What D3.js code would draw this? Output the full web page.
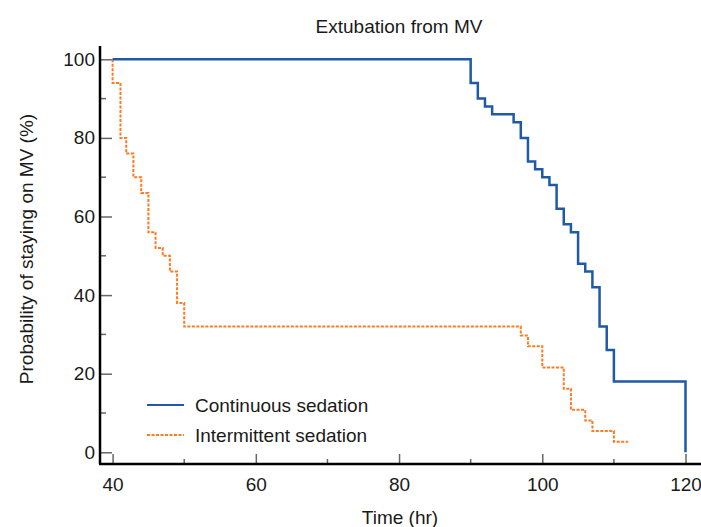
<!DOCTYPE html>
<html>
<head>
<meta charset="utf-8">
<script src="https://cdn.jsdelivr.net/npm/d3@7"></script>
<style>
    body { margin: 0; background: #fff; }
    svg text { font-family: "Liberation Sans", Arial, sans-serif; fill: #1a1a1a; }
</style>
</head>
<body>
<svg id="chart" width="701" height="527"></svg>
<script>
// Continuous sedation (Kaplan-Meier steps)
const contTime = [40, 90, 91, 92, 93, 96, 97, 98, 99, 100, 101, 102, 103, 104, 105, 106, 107, 108, 109, 110, 120];
const contSurv = [100, 94, 90, 88, 86, 84, 80, 74, 72, 70, 68, 62, 58, 56, 48, 46, 42, 32, 26, 18, 0];

// Intermittent sedation
const intTime = [40, 40, 41.1, 41.9, 42.9, 44, 45, 46, 47, 48, 49, 50, 97, 98, 100, 103, 104, 106, 107, 110, 112];
const intSurv = [100, 94, 80, 76, 70, 66, 56, 52, 50, 46, 38, 32, 29.7, 27, 21.6, 16.2, 10.8, 8.1, 5.4, 2.7, 2.7];

const xTicks = [40, 60, 80, 100, 120];
const xMinor = [50, 70, 90, 110];
const yTicks = [0, 20, 40, 60, 80, 100];
const yMinor = [10, 30, 50, 70, 90];

const seriesNames = ["Continuous sedation", "Intermittent sedation"];
const colors = ["#1f5aa6", "#ff7a21"];

const svg = d3.select("#chart");

const x = d3.scaleLinear().domain([40, 120]).range([112.6, 685.5]);
const y = d3.scaleLinear().domain([0, 100]).range([452.3, 59.3]);

const axisX = 100, axisY = 464;

// title
svg.append("text")
    .attr("x", 399).attr("y", 33)
    .attr("text-anchor", "middle")
    .attr("font-size", 19)
    .text("Extubation from MV");

// minor ticks
svg.selectAll(".xminor").data(xMinor).enter().append("line")
    .attr("x1", d => x(d)).attr("x2", d => x(d))
    .attr("y1", axisY).attr("y2", axisY - 5)
    .attr("stroke", "#666").attr("stroke-width", 1.5);
svg.selectAll(".yminor").data(yMinor).enter().append("line")
    .attr("y1", d => y(d)).attr("y2", d => y(d))
    .attr("x1", axisX).attr("x2", axisX + 6)
    .attr("stroke", "#666").attr("stroke-width", 1.5);

// x axis (ticks pointing inward)
const gx = svg.append("g")
    .attr("transform", `translate(0,${axisY})`)
    .call(d3.axisBottom(x).tickValues(xTicks).tickSizeInner(-10).tickSizeOuter(0).tickPadding(14));
gx.select(".domain").remove();
gx.selectAll(".tick line").attr("stroke", "#666").attr("stroke-width", 1.5);
gx.selectAll(".tick text").attr("font-size", 19).attr("dy", "0.71em").attr("fill", "#1a1a1a");

// y axis
const gy = svg.append("g")
    .attr("transform", `translate(${axisX},0)`)
    .call(d3.axisLeft(y).tickValues(yTicks).tickSizeInner(-12).tickSizeOuter(0).tickPadding(5));
gy.select(".domain").remove();
gy.selectAll(".tick line").attr("stroke", "#666").attr("stroke-width", 1.5);
gy.selectAll(".tick text").attr("font-size", 19).attr("fill", "#1a1a1a");

// axis lines
svg.append("line")
    .attr("x1", axisX - 1).attr("x2", 701)
    .attr("y1", axisY).attr("y2", axisY)
    .attr("stroke", "#000").attr("stroke-width", 2.5);
svg.append("line")
    .attr("x1", axisX).attr("x2", axisX)
    .attr("y1", 46).attr("y2", axisY)
    .attr("stroke", "#000").attr("stroke-width", 2.5);

// axis labels
svg.append("text")
    .attr("x", 400).attr("y", 524)
    .attr("text-anchor", "middle")
    .attr("font-size", 19)
    .text("Time (hr)");
svg.append("text")
    .attr("transform", "translate(33,249) rotate(-90)")
    .attr("text-anchor", "middle")
    .attr("font-size", 19)
    .text("Probability of staying on MV (%)");

// step lines
const line = d3.line()
    .x(d => x(d[0]))
    .y(d => y(d[1]))
    .curve(d3.curveStepAfter);

const contData = contTime.map((t, i) => [t, contSurv[i]]);
const intData = intTime.map((t, i) => [t, intSurv[i]]);

svg.append("path")
    .datum(intData)
    .attr("fill", "none")
    .attr("stroke", colors[1])
    .attr("stroke-width", 2)
    .attr("stroke-dasharray", "3,1.5")
    .attr("d", line);

svg.append("path")
    .datum(contData)
    .attr("fill", "none")
    .attr("stroke", colors[0])
    .attr("stroke-width", 2.5)
    .attr("d", line);

// legend
const legend = svg.append("g").attr("transform", "translate(147,405)");
seriesNames.forEach((name, i) => {
    const row = legend.append("g").attr("transform", `translate(0,${i * 30})`);
    row.append("line")
        .attr("x1", 0).attr("x2", 37)
        .attr("y1", 0).attr("y2", 0)
        .attr("stroke", colors[i])
        .attr("stroke-width", 2)
        .attr("stroke-dasharray", i === 1 ? "3,1.5" : null);
    row.append("text")
        .attr("x", 48).attr("y", 0)
        .attr("dy", "0.35em")
        .attr("font-size", 19)
        .text(name);
});
</script>
</body>
</html>
